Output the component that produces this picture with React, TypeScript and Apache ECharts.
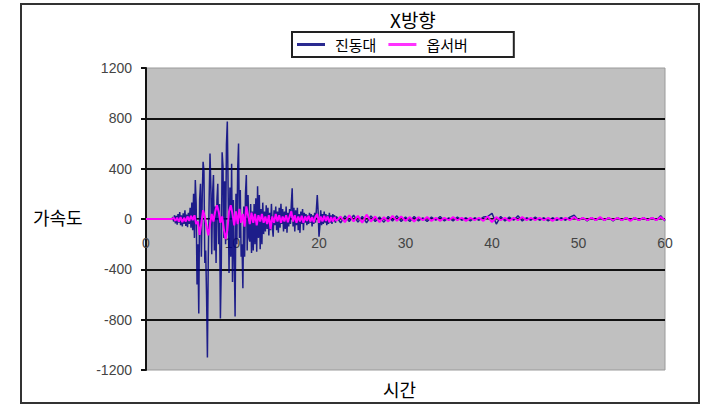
import React, { useEffect, useRef } from "react";
import * as echarts from "echarts";

// ---- Data ----
const TITLE = "X방향";
const SERIES_NAMES = ["진동대", "옵서버"];
const Y_AXIS_NAME = "가속도";
const X_AXIS_NAME = "시간";

// 진동대: 0.1 s samples from 3.0 s to 22.0 s
const BLUE_MAIN_START = 3.0;
const BLUE_MAIN_STEP = 0.1;
const blueMain = [
  0, 15, -20, 30, -35, 25, -45, 40, -30, 55,
  -50, 30, -60, 45, -40, 70, -55, 35, -65, 50,
  -40, 90, -70, 130, -90, 200, -150, 310, 120, -520,
  -200, -750, 150, 280, -300, 180, 455, 380, -350, -250,
  -600, -1100, -300, 150, 520, 250, -280, 200, 350, -250,
  100, -350, 150, 280, -200, 120, -790, -400, 530, 420,
  -150, 300, -200, 590, 775, 200, -430, 250, -300, 440,
  -500, 150, -300, -775, 200, -200, 400, 600, -150, 230,
  -300, -200, -550, 100, -300, 200, 350, -250, 190, -150,
  -180, 120, -270, 60, -250, 120, -200, 165, -260, 260,
  -150, 190, -240, 80, -200, 130, -120, 60, -100, 110,
  -80, 90, -130, 50, -90, 120, -60, -140, 70, -50,
  100, -90, 60, -110, 90, -70, 120, -40, 80, -100,
  60, -80, 100, -110, 50, -60, 80, -40, 120, 245,
  -60, 90, -100, 70, -50, 90, -90, 40, -110, 60,
  -40, 80, -90, 50, -30, 40, -50, 30, -40, 50,
  -30, 40, -60, 30, -40, 50, -30, 80, 190, 60,
  -140, -60, 70, -50, 40, -40, 60, -30, 40, -50,
  30, -40, 50, -30, 30, -40, 40, -20, 30, -30,
  20,
];
// 진동대: 0.5 s samples from 22.5 s to 60 s
const BLUE_TAIL_START = 22.5;
const BLUE_TAIL_STEP = 0.5;
const blueTail = [
  -30, 25, -20, 30, -25, 20, -30, 25, -20, 15,
  -25, 20, -15, 25, -20, 15, -20, 20, -15, 10,
  -20, 15, -10, 20, -15, 10, -15, 15, -10, 10,
  -15, 10, -10, 15, 20, 45, -40, 20, -15, 15,
  -10, 25, -15, 10, -10, 15, -10, 10, -15, 10,
  -10, 10, -10, 15, 30, -10, 10, -15, 10, -10,
  10, -10, 10, -15, 10, -10, 10, -10, 10, -10,
  10, -10, 10, -10, 25, -15,
];

// 옵서버: 0.2 s samples from 3.0 s to 22.0 s
const PINK_MAIN_START = 3.0;
const PINK_MAIN_STEP = 0.2;
const pinkMain = [
  0, 10, -15, 10, -20, 15, -25, 10, -20, 20,
  -15, 25, -10, 30, -40, -20, -127, -30, 70, 20,
  -60, -130, -40, 40, -20, 60, 110, 60, -30, 20,
  -80, -160, -90, 60, 110, 40, -50, 60, -40, 80,
  -30, 40, -60, 100, 30, -40, 50, -30, 40, -50,
  30, -20, 40, -30, 20, -40, 30, -80, 20, -30,
  40, -20, 30, -30, 20, -20, 30, -25, 20, 60,
  -20, 30, -30, 20, -20, 25, -30, 20, -15, 25,
  -20, 15, -25, 20, 40, -30, 20, -20, 25, -15,
  20, -25, 15, -20, 15, -15,
];
// 옵서버: 0.5 s samples from 22.5 s to 60 s
const PINK_TAIL_START = 22.5;
const PINK_TAIL_STEP = 0.5;
const pinkTail = [
  20, -25, 30, -20, 25, -30, 35, -20, 20, -25,
  15, -20, 25, -15, 20, -15, 15, -20, 15, -10,
  15, -15, 10, -15, 10, -10, 15, -10, 10, -15,
  10, -10, 10, -15, 20, -25, 15, -10, 10, -15,
  10, -10, 15, -10, 10, -10, 10, -10, 10, -15,
  10, -10, 10, -10, 15, -10, 10, -10, 10, -10,
  15, -10, 10, -10, 10, -10, 10, -15, 10, -10,
  10, -10, 10, -10, 15, -10,
];

const xTicks = [0, 10, 20, 30, 40, 50, 60];
const yTicks = [-1200, -800, -400, 0, 400, 800, 1200];

function toPairs(start: number, step: number, vals: number[]) {
  return vals.map((v, i) => [Number((start + i * step).toFixed(2)), v]);
}

const blueData = [
  [0, 0],
  ...toPairs(BLUE_MAIN_START, BLUE_MAIN_STEP, blueMain),
  ...toPairs(BLUE_TAIL_START, BLUE_TAIL_STEP, blueTail),
];
const pinkData = [
  [0, 0],
  ...toPairs(PINK_MAIN_START, PINK_MAIN_STEP, pinkMain),
  ...toPairs(PINK_TAIL_START, PINK_TAIL_STEP, pinkTail),
];

const KR = "'Noto Sans CJK KR', 'Noto Sans', sans-serif";
const NUM = "'Liberation Sans', Arial, sans-serif";

// grid geometry
const GRID_TOP = 68;
const GRID_BOTTOM_PX = 370;
const CHART_H = 404;

export default function App() {
  const ref = useRef<HTMLDivElement>(null);

  useEffect(() => {
    document.body.style.margin = "0";
    if (!ref.current) return;
    const chart = echarts.init(ref.current, undefined, { renderer: "svg" });
    const gridH = GRID_BOTTOM_PX - GRID_TOP;
    const yMin = yTicks[0];
    const yMax = yTicks[yTicks.length - 1];
    // move x axis up to the value-0 line of the y axis
    const zeroOffset = -Math.round((gridH * (0 - yMin)) / (yMax - yMin));
    chart.setOption({
      animation: false,
      backgroundColor: "#ffffff",
      title: {
        text: TITLE,
        left: 385,
        top: 5,
        textStyle: { fontSize: 19, fontWeight: "normal", color: "#000", fontFamily: KR },
      },
      legend: {
        left: 292,
        top: 32,
        padding: [5, 46, 5, 5],
        borderColor: "#222",
        borderWidth: 2,
        backgroundColor: "#fff",
        itemWidth: 28,
        itemHeight: 3,
        itemGap: 12,
        icon: "rect",
        data: SERIES_NAMES,
        textStyle: { fontSize: 15, color: "#000", fontFamily: KR, padding: [0, 0, 0, 5] },
      },
      grid: {
        left: 146,
        right: 38,
        top: GRID_TOP,
        bottom: CHART_H - GRID_BOTTOM_PX,
        show: true,
        backgroundColor: "#c0c0c0",
        borderColor: "#9a9a9a",
        borderWidth: 1,
      },
      xAxis: {
        type: "value",
        min: xTicks[0],
        max: xTicks[xTicks.length - 1],
        interval: 10,
        offset: zeroOffset,
        axisLine: { show: true, onZero: false, lineStyle: { color: "#555", width: 1 } },
        axisTick: { show: false },
        splitLine: { show: false },
        axisLabel: { margin: 17, fontSize: 14, color: "#444", fontFamily: NUM },
      },
      yAxis: {
        type: "value",
        min: yMin,
        max: yMax,
        interval: 400,
        axisLine: { show: true, onZero: false, lineStyle: { color: "#111", width: 2 } },
        axisTick: { show: true, length: 5, lineStyle: { color: "#111", width: 2 } },
        axisLabel: {
          margin: 14,
          fontSize: 14,
          color: "#444",
          fontFamily: NUM,
          formatter: (v: number) => String(v),
        },
        splitLine: { show: true, showMinLine: false, showMaxLine: false, lineStyle: { color: "#111", width: 2 } },
      },
      graphic: [
        {
          type: "rect",
          shape: { x: 21, y: 4, width: 678, height: 399 },
          style: { fill: "none", stroke: "#333", lineWidth: 2 },
          z: -10,
          silent: true,
        },
        {
          type: "text",
          x: 33,
          y: 217,
          style: { text: Y_AXIS_NAME, fontSize: 18, fill: "#000", fontFamily: KR, verticalAlign: "middle" },
        },
        {
          type: "text",
          x: 383,
          y: 389,
          style: { text: X_AXIS_NAME, fontSize: 18, fill: "#000", fontFamily: KR, verticalAlign: "middle" },
        },
      ],
      series: [
        {
          name: SERIES_NAMES[0],
          type: "line",
          data: blueData,
          symbol: "none",
          lineStyle: { color: "#000080", width: 1.5, opacity: 0.85 },
          itemStyle: { color: "#2a2a90" },
          z: 2,
        },
        {
          name: SERIES_NAMES[1],
          type: "line",
          data: pinkData,
          symbol: "none",
          lineStyle: { color: "#ff00ff", width: 2 },
          itemStyle: { color: "#ff33ff" },
          z: 3,
        },
      ],
    });
    return () => chart.dispose();
  }, []);

  return <div ref={ref} style={{ width: 703, height: 404 }} />;
}
